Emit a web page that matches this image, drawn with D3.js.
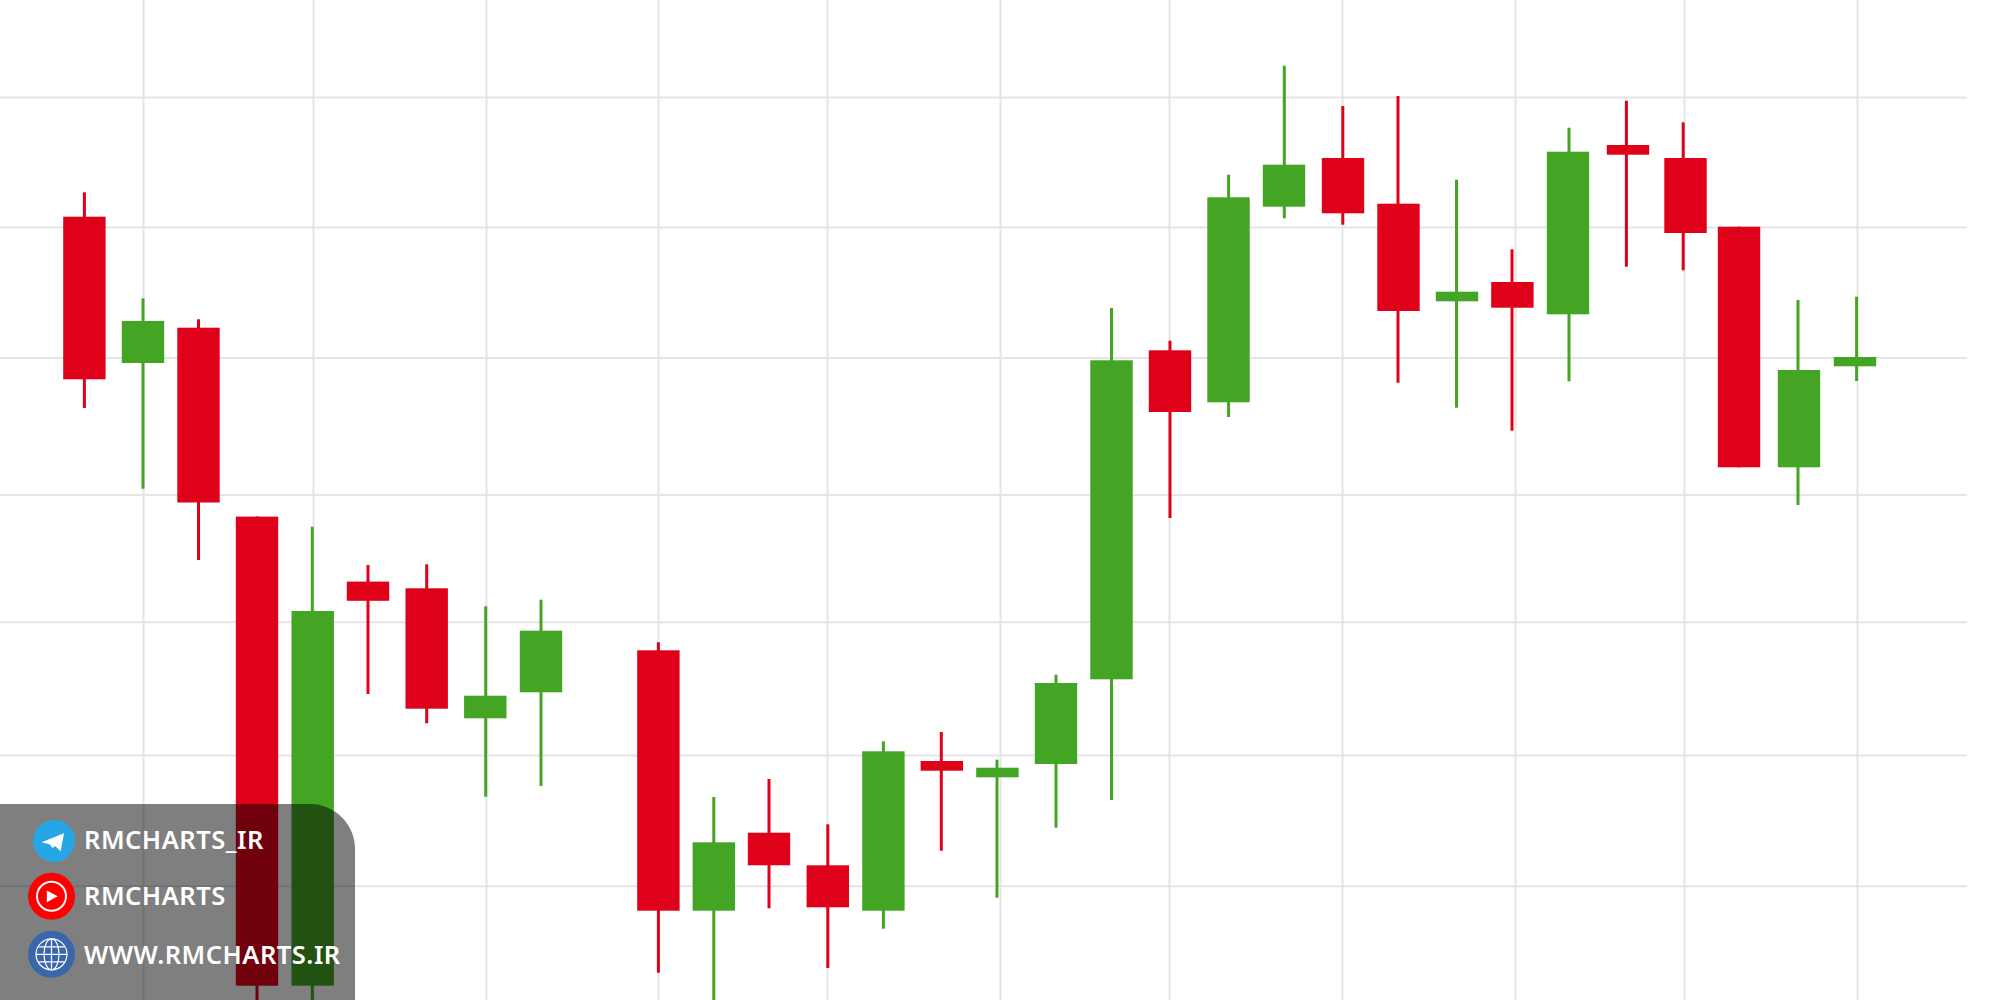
<!DOCTYPE html>
<html>
<head>
<meta charset="utf-8">
<script src="https://cdn.jsdelivr.net/npm/d3@7"></script>
<style>
html, body { margin: 0; padding: 0; background: #fff; overflow: hidden; }
.grid line { stroke: #e5e5e8; stroke-width: 2; }
.grid path { display: none; }
.grid text { display: none; }
.badge-text { font-family: "Noto Sans", sans-serif; font-weight: 600; font-size: 25.5px; letter-spacing: 0.5px; fill: #fff; }
</style>
</head>
<body>
<div id="chart"></div>
<script>
// values (the reference has no axis labels, so the
// price and time units are just relative to the picture)
var timeTicks = [143, 313, 486, 658, 827, 1000, 1169, 1342, 1515, 1684, 1857];
var priceTicks = [903, 773, 642.5, 505.5, 378.3, 245, 114.3];

var times = [84.4, 143, 198.5, 257, 312.7, 368, 426.7, 485.3, 541, 658.4, 713.8, 769, 827.8, 883.4, 941.8, 997.4,
    1056, 1111.5, 1170, 1228.5, 1284, 1343, 1398.5, 1457, 1512.4, 1568, 1628, 1685.5, 1739, 1799, 1855];
// wicks are not always centred on the body
var wickTimes = [84.4, 143, 198.5, 257, 312.3, 368, 426.7, 485.7, 541, 658.4, 713.8, 769, 827.8, 883.4, 941.3, 997,
    1056, 1111.5, 1170, 1228.6, 1284.3, 1342.8, 1398, 1456.5, 1512, 1569, 1626.4, 1683.2, 1739, 1798, 1856.6];
var open = [783.3, 637, 672.3, 483.4, 14.3, 418.4, 411.7, 281.7, 307.7, 349.7, 89.3, 167.3, 134.7, 89.3, 239, 222.7,
    236, 320.7, 649.7, 597.7, 793.3, 842, 796.3, 698.7, 718, 685.7, 855, 842, 773.3, 532.7, 633.7];
var close = [620.7, 679, 497.5, 14.3, 389, 399.2, 291.3, 304.3, 369.3, 89.3, 157.7, 134.7, 92.7, 248.7, 229.3, 232.3,
    317, 639.7, 588, 802.7, 835.3, 786.7, 689, 708.3, 692.3, 848.3, 845.3, 767, 532.7, 630, 643];
var high = [807.7, 701.7, 680.7, 483.4, 473.2, 435, 435.7, 393.7, 400.3, 357.7, 203, 221, 175.7, 258.7, 268, 240.3,
    325.3, 692, 659.3, 825.3, 934.3, 894, 904, 820.3, 750.7, 872.3, 899.3, 877.7, 773.3, 700, 703.3];
var low = [592, 511.3, 440, 0, 0, 306, 276.7, 203.3, 214, 27.3, 0, 91.7, 32, 71.3, 149.3, 102.3,
    172.3, 200, 482, 583, 781.7, 775.3, 617.3, 592.3, 569.3, 618.7, 733.3, 729.7, 532.7, 495, 619];

var badgeLabels = ['RMCHARTS_IR', 'RMCHARTS', 'WWW.RMCHARTS.IR'];

var widthFull = 2000;
var heightFull = 1000;
var upColor = '#43a523';
var downColor = '#df0019';
var candleWidth = 42.4;

var svg = d3.select('#chart').append('svg')
    .attr('width', widthFull)
    .attr('height', heightFull)
    .style('display', 'block');

var x = d3.scaleLinear().domain([0, 2000]).range([0, widthFull]);
var y = d3.scaleLinear().domain([0, 1000]).range([heightFull, 0]);

// grid, drawn with the axes and no labels
svg.append('g')
    .attr('class', 'grid')
    .attr('transform', 'translate(0,' + heightFull + ')')
    .call(d3.axisBottom(x).tickValues(timeTicks).tickFormat('').tickSize(-heightFull));

svg.append('g')
    .attr('class', 'grid')
    .call(d3.axisRight(y).tickValues(priceTicks).tickFormat('').tickSize(1967));

// candles
var candles = svg.append('g').selectAll('g')
    .data(times.map(function(t, i) { return i; }))
    .enter().append('g');

function color(i) { return close[i] >= open[i] ? upColor : downColor; }

candles.append('line')
    .attr('x1', function(i) { return x(wickTimes[i]); })
    .attr('x2', function(i) { return x(wickTimes[i]); })
    .attr('y1', function(i) { return y(high[i]); })
    .attr('y2', function(i) { return y(low[i]); })
    .attr('stroke', color)
    .attr('stroke-width', 3);

candles.append('rect')
    .attr('x', function(i) { return x(times[i]) - candleWidth / 2; })
    .attr('width', candleWidth)
    .attr('y', function(i) { return y(Math.max(open[i], close[i])); })
    .attr('height', function(i) { return Math.abs(y(open[i]) - y(close[i])); })
    .attr('fill', color);

// watermark box in the bottom left corner
svg.append('path')
    .attr('d', 'M0,804 H310 A45,45 0 0 1 355,849 V1000 H0 Z')
    .attr('fill', 'rgba(0,0,0,0.5)');

var badges = svg.append('g');
var baselines = [849, 905, 964];
badges.selectAll('text')
    .data(badgeLabels)
    .enter().append('text')
    .attr('class', 'badge-text')
    .attr('x', 84)
    .attr('y', function(d, i) { return baselines[i]; })
    .text(function(d) { return d; });

// telegram icon
var tg = badges.append('g').attr('transform', 'translate(54,841)');
tg.append('circle').attr('r', 21).attr('fill', '#27a6e5');
tg.append('path').attr('d', 'M-12.3,1.3 L10,-7.7 L6.7,10.3 L1,5 L-1.3,7 L-4.7,3.3 Z').attr('fill', '#fff');

// youtube icon
var yt = badges.append('g').attr('transform', 'translate(51.5,896.3)');
yt.append('circle').attr('r', 23.5).attr('fill', '#fe0000');
yt.append('circle').attr('r', 14.5).attr('fill', 'none').attr('stroke', '#fff').attr('stroke-width', 2);
yt.append('path').attr('d', 'M-4.7,-5.8 L6.3,0 L-4.7,6 Z').attr('fill', '#fff');

// globe icon
var gl = badges.append('g').attr('transform', 'translate(51.5,954.3)')
    .attr('fill', 'none').attr('stroke', '#fff').attr('stroke-width', 1.2);
gl.append('circle').attr('r', 23.5).attr('fill', '#3a67ac').attr('stroke', 'none');
gl.append('circle').attr('r', 15.5);
gl.append('ellipse').attr('rx', 7.5).attr('ry', 15.5);
gl.append('path').attr('d', 'M0,-15.5 V15.5 M-15.5,0 H15.5 M-13,-7.5 H13 M-13,7.5 H13');
</script>
</body>
</html>
